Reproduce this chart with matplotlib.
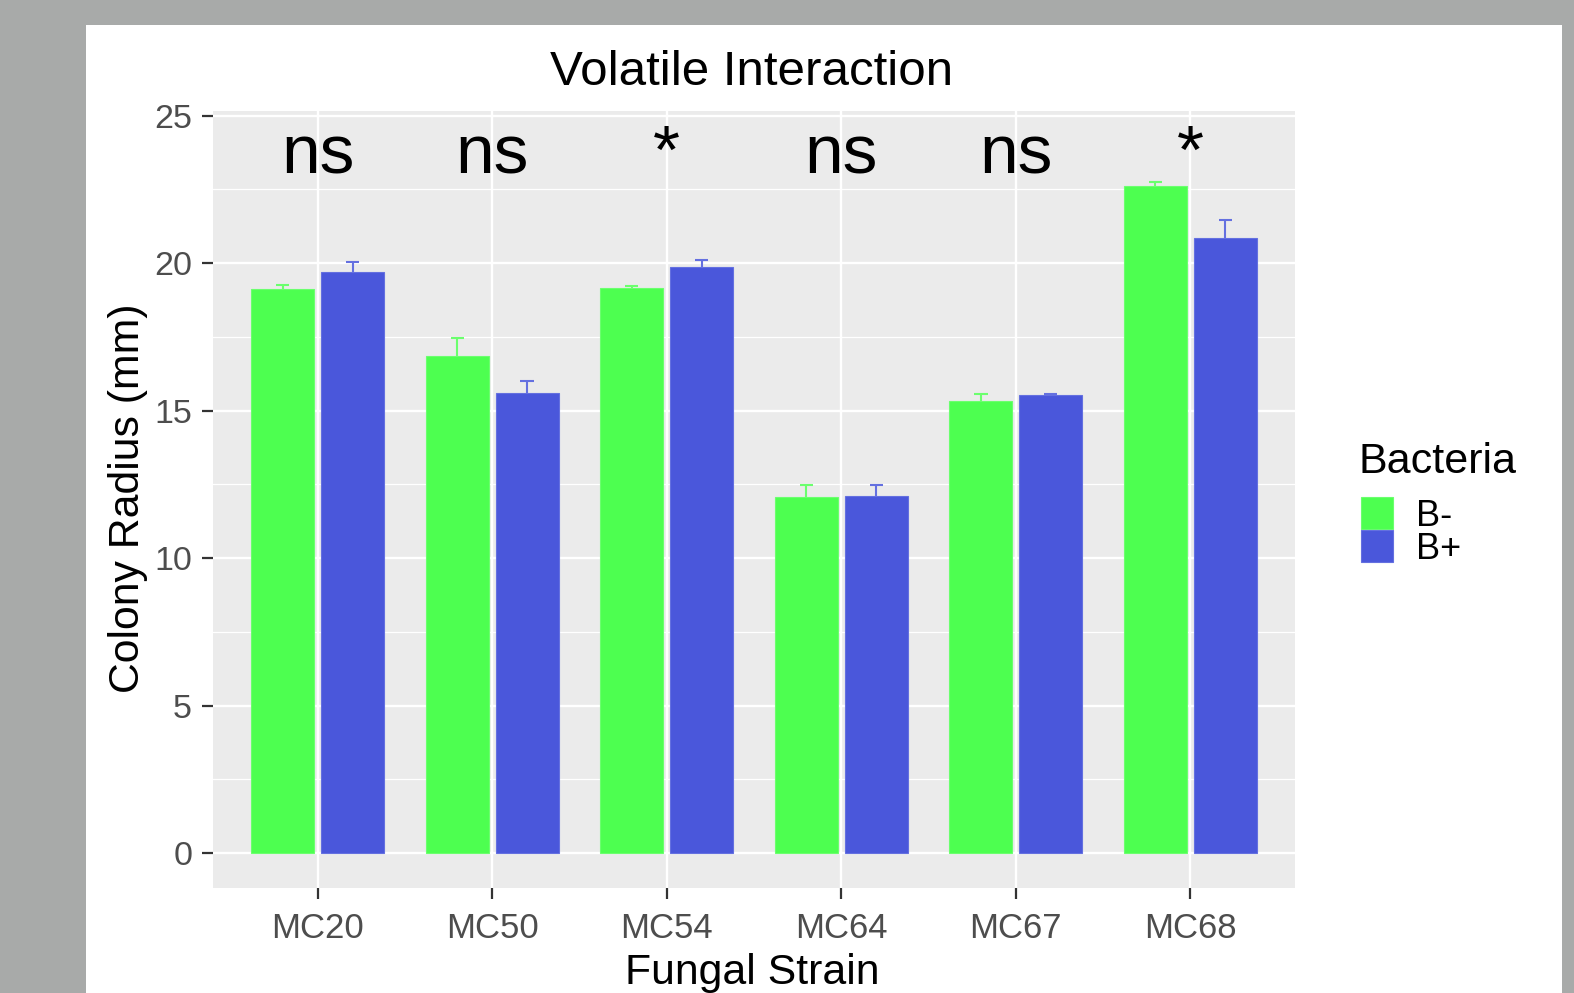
import numpy as np
import matplotlib.pyplot as plt
from matplotlib.patches import Rectangle

## Data: colony radius (mm) per fungal strain, without (B-) and with (B+) bacteria
strains = ["MC20", "MC50", "MC54", "MC64", "MC67", "MC68"]
b_minus = [19.11, 16.86, 19.17, 12.06, 15.32, 22.62]
b_minus_se = [0.15, 0.59, 0.05, 0.43, 0.23, 0.13]
b_plus = [19.71, 15.61, 19.86, 12.12, 15.52, 20.86]
b_plus_se = [0.34, 0.39, 0.25, 0.37, 0.04, 0.59]
signif = ["ns", "ns", "*", "ns", "ns", "*"]
groups = ["B-", "B+"]
colors = ["#4DFF50", "#4A57DB"]
err_colors = ["#6BFF6E", "#6470E0"]

W, H = 1574, 993
plt.rcParams["font.family"] = ["Liberation Sans", "DejaVu Sans"]

fig = plt.figure(figsize=(W/100, H/100), dpi=100)
fig.patch.set_facecolor("#a8aaa9")
# white plot card (screenshot look), kept behind the axes
card = Rectangle((86/W, 0), (1562-86)/W, 1-25/H, transform=fig.transFigure,
                 facecolor="white", edgecolor="none", zorder=-10)
fig.patches.append(card)

# panel in pixel coordinates
left, right, top, bottom = 213, 1295, 110.5, 888
ax = fig.add_axes([left/W, 1-bottom/H, (right-left)/W, (bottom-top)/H])
ax.set_zorder(1)
ax.set_facecolor("#EBEBEB")
for s in ax.spines.values():
    s.set_visible(False)

x = np.arange(len(strains))
offset = 0.2
width = 0.36
series = [(b_minus, b_minus_se), (b_plus, b_plus_se)]
for k, (vals, se) in enumerate(series):
    xs = x + (2*k - 1)*offset
    vals = np.array(vals); se = np.array(se)
    ax.bar(xs, vals, width=width, color=colors[k], edgecolor=err_colors[k],
           linewidth=0.8, zorder=3, label=groups[k])
    # upper error bars only
    ax.vlines(xs, vals, vals + se, color=err_colors[k], linewidth=1.5, zorder=4)
    ax.hlines(vals + se, xs - 0.038, xs + 0.038, color=err_colors[k], linewidth=1.5, zorder=4)

for i, lab in enumerate(signif):
    ax.text(x[i], 23.05, lab, ha="center", va="baseline", fontsize=50, color="black", zorder=5)

ax.set_xlim(-0.6, len(strains) - 0.4)
ax.set_ylim(-1.18, 25.17)
ax.set_xticks(x)
ax.set_xticklabels(strains)
ax.set_yticks([0, 5, 10, 15, 20, 25])
ax.set_yticks([2.5, 7.5, 12.5, 17.5, 22.5], minor=True)
ax.grid(which="major", color="white", linewidth=1.7, zorder=1)
ax.grid(which="minor", axis="y", color="white", linewidth=0.9, zorder=1)
ax.set_axisbelow(True)
ax.tick_params(axis="x", which="major", length=8, width=1.6, color="#333333",
               labelsize=25, labelcolor="#4D4D4D", pad=9)
ax.tick_params(axis="y", which="major", length=8, width=1.6, color="#333333",
               labelsize=24.5, labelcolor="#4D4D4D", pad=7)
ax.tick_params(axis="y", which="minor", length=0)

## Titles
fig.text(752/W, 1-85/H, "Volatile Interaction", ha="center", va="baseline", fontsize=35.5)
fig.text(752/W, 1-984/H, "Fungal Strain", ha="center", va="baseline", fontsize=30.8)
fig.text(128/W, 1-498/H, "Colony Radius (mm)", ha="center", va="center",
         rotation=90, fontsize=30.8)

## Legend (drawn by hand, ggplot style)
fig.text(1358/W, 1-472.7/H, "Bacteria", ha="left", va="baseline", fontsize=31)
key_tops = [497, 530]
for k in range(len(groups)):
    fig.patches.append(Rectangle((1361/W, 1-(key_tops[k]+32)/H), 32/W, 32/H,
                                 transform=fig.transFigure, facecolor=colors[k],
                                 edgecolor=err_colors[k], linewidth=0.8, zorder=2))
    fig.text(1416/W, 1-(key_tops[k]+29)/H, groups[k], ha="left", va="baseline", fontsize=26)

plt.savefig("out.png", dpi=100, facecolor=fig.get_facecolor())
